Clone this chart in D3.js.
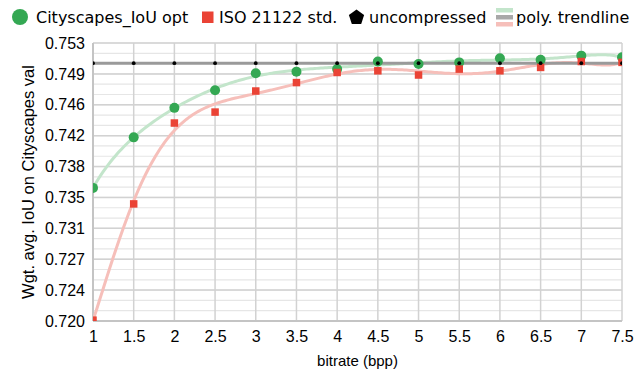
<!DOCTYPE html>
<html>
<head>
<meta charset="utf-8">
<script src="https://cdn.jsdelivr.net/npm/d3@7"></script>
<style>
body { margin: 0; background: #fff; }
</style>
</head>
<body>
<div id="chart"></div>
<script>
// values
const bitrates = [1, 1.5, 2, 2.5, 3, 3.5, 4, 4.5, 5, 5.5, 6, 6.5, 7, 7.5]
const iouOpt = [0.7358, 0.7418, 0.7453, 0.7474, 0.7494, 0.7496, 0.7499, 0.7508, 0.7505, 0.7507, 0.7512, 0.7510, 0.7515, 0.7513]
const isoStd = [0.7201, 0.7339, 0.7435, 0.7448, 0.7473, 0.7483, 0.7495, 0.7497, 0.7492, 0.7499, 0.7497, 0.7501, 0.7508, 0.7507]
const uncompressed = [0.7506, 0.7506, 0.7506, 0.7506, 0.7506, 0.7506, 0.7506, 0.7506, 0.7506, 0.7506, 0.7506, 0.7506, 0.7506, 0.7506]
const xTicks = [1, 1.5, 2, 2.5, 3, 3.5, 4, 4.5, 5, 5.5, 6, 6.5, 7, 7.5]
const yDomain = [0.720, 0.753]
const yTickCount = 10
const legendLabels = ['Cityscapes_IoU opt', 'ISO 21122 std.', 'uncompressed', 'poly. trendline']
const trendDegree = 8

const width = 636, height = 371
const margin = { left: 93, right: 14, top: 43, bottom: 50 }
const green = '#34a853', red = '#ea4335'

let svg = d3.select('#chart').append('svg')
    .attr('width', width)
    .attr('height', height)
    .style('font-family', '"Liberation Sans", Arial, sans-serif')

let x = d3.scaleLinear()
    .domain([1, 7.5])
    .range([margin.left, width - margin.right])
let y = d3.scaleLinear()
    .domain(yDomain)
    .range([height - margin.bottom, margin.top])

let yTicks = d3.range(yTickCount).map(i => yDomain[0] + i * (yDomain[1] - yDomain[0]) / (yTickCount - 1))
let yMinor = d3.range((yTickCount - 1) * 3 + 1).map(i => yDomain[0] + i * (yDomain[1] - yDomain[0]) / ((yTickCount - 1) * 3))

// grid
let grid = svg.append('g')
grid.selectAll('line.minor')
    .data(yMinor)
    .enter()
    .append('line')
        .attr('x1', x.range()[0]).attr('x2', x.range()[1])
        .attr('y1', d => y(d)).attr('y2', d => y(d))
        .attr('stroke', '#e6e6e6')
        .attr('stroke-width', 1.2)
grid.selectAll('line.major')
    .data(yTicks)
    .enter()
    .append('line')
        .attr('x1', x.range()[0]).attr('x2', x.range()[1])
        .attr('y1', d => y(d)).attr('y2', d => y(d))
        .attr('stroke', '#d2d2d2')
        .attr('stroke-width', 1.5)
grid.selectAll('line.vert')
    .data(xTicks)
    .enter()
    .append('line')
        .attr('x1', d => x(d)).attr('x2', d => x(d))
        .attr('y1', y.range()[0]).attr('y2', y.range()[1])
        .attr('stroke', '#d2d2d2')
        .attr('stroke-width', 1.5)
grid.append('line')
    .attr('x1', x.range()[0]).attr('x2', x.range()[0])
    .attr('y1', y.range()[0]).attr('y2', y.range()[1])
    .attr('stroke', '#c4c4c4').attr('stroke-width', 2)
grid.append('line')
    .attr('x1', x.range()[0]).attr('x2', x.range()[1])
    .attr('y1', y.range()[0]).attr('y2', y.range()[0])
    .attr('stroke', '#c4c4c4').attr('stroke-width', 2)

// axes labels
let xAxis = svg.append('g')
    .attr('transform', `translate(0,${y.range()[0]})`)
    .call(d3.axisBottom(x).tickValues(xTicks).tickSize(0).tickPadding(10).tickFormat(d3.format('')))
let yAxis = svg.append('g')
    .attr('transform', `translate(${x.range()[0]},0)`)
    .call(d3.axisLeft(y).tickValues(yTicks).tickSize(0).tickPadding(8).tickFormat(d3.format('.3f')))
;[xAxis, yAxis].forEach(ax => {
    ax.select('.domain').remove()
    ax.selectAll('text')
        .attr('font-family', '"Liberation Sans", Arial, sans-serif')
        .attr('font-size', 16)
        .attr('fill', '#000')
})

svg.append('text')
    .attr('x', (x.range()[0] + x.range()[1]) / 2)
    .attr('y', 366)
    .attr('text-anchor', 'middle')
    .attr('font-size', 15)
    .text('bitrate (bpp)')
svg.append('text')
    .attr('transform', `translate(34,${(y.range()[0] + y.range()[1]) / 2}) rotate(-90)`)
    .attr('text-anchor', 'middle')
    .attr('font-size', 16.5)
    .text('Wgt. avg. IoU on Cityscapes val')

// polynomial least squares trendline
function polyfit(xs, ys, deg) {
    let cx = (xs[0] + xs[xs.length - 1]) / 2, sx = (xs[xs.length - 1] - xs[0]) / 2
    let my = d3.mean(ys)
    let n = deg + 1
    let A = d3.range(n).map(() => new Array(n + 1).fill(0))
    xs.forEach((xv, k) => {
        let t = (xv - cx) / sx
        let pw = d3.range(n).map(i => Math.pow(t, i))
        for (let i = 0; i < n; i++) {
            for (let j = 0; j < n; j++) A[i][j] += pw[i] * pw[j]
            A[i][n] += pw[i] * (ys[k] - my)
        }
    })
    for (let c = 0; c < n; c++) {
        let p = c
        for (let r = c + 1; r < n; r++) if (Math.abs(A[r][c]) > Math.abs(A[p][c])) p = r
        ;[A[c], A[p]] = [A[p], A[c]]
        for (let r = 0; r < n; r++) {
            if (r == c) continue
            let f = A[r][c] / A[c][c]
            for (let j = c; j <= n; j++) A[r][j] -= f * A[c][j]
        }
    }
    let coef = A.map((row, i) => row[n] / row[i])
    return xv => {
        let t = (xv - cx) / sx
        return my + coef.reduce((s, c, i) => s + c * Math.pow(t, i), 0)
    }
}

svg.append('clipPath')
    .attr('id', 'plot-clip')
    .append('rect')
        .attr('x', x.range()[0]).attr('y', y.range()[1])
        .attr('width', x.range()[1] - x.range()[0])
        .attr('height', y.range()[0] - y.range()[1])

let plot = svg.append('g').attr('clip-path', 'url(#plot-clip)')

let samples = d3.range(0, 261).map(i => 1 + i * 6.5 / 260)
let trendLine = d3.line().x(d => x(d[0])).y(d => y(d[1]))
let trends = [
    { values: iouOpt, color: '#c3e5cb' },
    { values: isoStd, color: '#f6bfba' },
    { values: uncompressed, color: '#9a9a9a' }
]
trends.forEach(t => {
    let f = polyfit(bitrates, t.values, trendDegree)
    plot.append('path')
        .datum(samples.map(s => [s, f(s)]))
        .attr('d', trendLine)
        .attr('fill', 'none')
        .attr('stroke', t.color)
        .attr('stroke-width', 3)
})

plot.selectAll('circle.opt')
    .data(bitrates)
    .enter()
    .append('circle')
        .attr('cx', d => x(d))
        .attr('cy', (d, i) => y(iouOpt[i]))
        .attr('r', 5)
        .attr('fill', green)
plot.selectAll('rect.iso')
    .data(bitrates)
    .enter()
    .append('rect')
        .attr('x', d => x(d) - 3.75)
        .attr('y', (d, i) => y(isoStd[i]) - 3.75)
        .attr('width', 7.5)
        .attr('height', 7.5)
        .attr('fill', red)
plot.selectAll('circle.unc')
    .data(bitrates)
    .enter()
    .append('circle')
        .attr('cx', d => x(d))
        .attr('cy', (d, i) => y(uncompressed[i]))
        .attr('r', 1.9)
        .attr('fill', '#000')

// legend
let legend = svg.append('g')
    .attr('font-family', '"DejaVu Sans", Verdana, sans-serif')
    .attr('font-size', 16)
legend.append('circle')
    .attr('cx', 20).attr('cy', 17).attr('r', 8)
    .attr('fill', green)
legend.append('rect')
    .attr('x', 202).attr('y', 11.5).attr('width', 11.5).attr('height', 11.5)
    .attr('fill', red)
let pent = d3.range(5).map(i => {
    let a = -Math.PI / 2 + i * 2 * Math.PI / 5
    return [356.5 + 8 * Math.cos(a), 17.5 + 8 * Math.sin(a)]
})
legend.append('path')
    .attr('d', d3.line()(pent) + 'Z')
    .attr('fill', '#000')
;['#c3e5cb', '#a8a8a8', '#f6bfba'].forEach((c, i) => {
    legend.append('rect')
        .attr('x', 496).attr('y', 8 + i * 7).attr('width', 17).attr('height', 4.5)
        .attr('fill', c)
})
let legendX = [36, 219, 369, 516]
legend.selectAll('text')
    .data(legendLabels)
    .enter()
    .append('text')
        .attr('x', (d, i) => legendX[i])
        .attr('y', 23)
        .text(d => d)
</script>
</body>
</html>
